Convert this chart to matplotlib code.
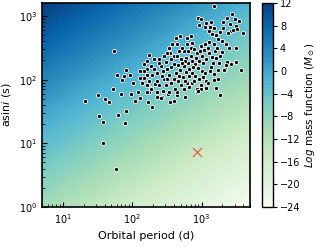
import numpy as np
import matplotlib
matplotlib.use("Agg")
import matplotlib.pyplot as plt

# orbital period (d) and projected semi-major axis asini (light-s)
period = [54, 61, 82, 72, 94, 77, 103, 52, 70, 32, 21, 41, 47, 97, 122, 110, 130, 169, 193, 175,
          228, 268, 228, 33, 38.5, 63, 82, 79, 38.5, 59,
          259, 327, 349, 398, 439, 572, 849, 1870,
          3160, 3730, 2350, 2280, 2200, 2130, 1810, 1750, 1535, 1390, 1180, 1260, 1750, 1535, 1180,
          968, 849, 968, 877, 2680, 1640,
          175, 164, 206, 243, 148, 130, 164, 187, 206, 259, 306, 349, 316, 398, 469, 553, 631, 696,
          501, 591, 631, 719, 553, 454, 398, 361, 316, 277, 228, 193, 164, 148, 130, 139, 164, 187,
          213, 228, 287, 338, 425, 485, 591, 652, 719, 398, 454, 361, 306, 277, 338, 439, 553, 610,
          719, 164, 187,
          1535, 877, 968, 906, 1180, 1390, 1345, 1535, 1300, 1435, 1640, 1870, 1750, 1535, 1300, 1140,
          968, 2060, 2350, 2770, 3060, 3490, 2600, 3160, 2680, 2430, 2870, 2000, 2280, 3980, 3160, 2510,
          1140, 2060, 3270, 425, 485, 373, 439, 610, 696, 610, 719, 518, 338,
          770, 849, 936, 1033, 821, 906, 1068, 1180, 1300, 1435, 1585, 1260, 1104, 794, 877, 1000,
          1140, 743, 652, 794, 906, 1345, 1485, 1640, 1870, 1693, 2000, 696, 572, 518, 770, 1068,
          535, 469, 572, 652, 501, 411, 243, 287, 361, 439, 268, 175, 243, 148, 316]
asini = [284, 120, 143, 100, 120, 115, 90, 70, 60, 58, 47, 49, 44, 60, 65, 47, 52, 44, 37, 65,
         63, 54, 54, 27, 22, 28, 32, 21, 10, 3.9,
         52, 60, 44, 47, 58, 54, 65, 58,
         191, 143, 191, 171, 149, 143, 184, 143, 124, 160, 96, 90, 104, 100, 75,
         81, 72, 70, 67, 178, 75,
         246, 198, 213, 213, 178, 138, 149, 165, 149, 165, 191, 264, 264, 237, 284, 284, 284, 316,
         213, 221, 184, 198, 165, 171, 178, 160, 149, 138, 129, 120, 120, 108, 108, 90, 81, 75,
         84, 96, 104, 120, 129, 143, 133, 149, 129, 104, 96, 87, 81, 67, 63, 63, 72, 87,
         90, 63, 72,
         1430, 930, 898, 723, 777, 806, 673, 649, 583, 523, 505, 562, 437, 365, 392, 365,
         340, 806, 930, 1075, 898, 835, 750, 698, 583, 542, 604, 407, 365, 542, 316, 316,
         673, 649, 626, 453, 487, 365, 365, 453, 487, 365, 378, 316, 316,
         305, 264, 284, 237, 221, 198, 184, 213, 264, 229, 284, 316, 294, 178, 154, 138,
         129, 160, 115, 115, 104, 138, 184, 221, 237, 316, 274, 237, 198, 184, 96, 111,
         111, 115, 96, 78, 81, 72, 184, 237, 213, 237, 115, 96, 81, 138, 104]

target_period = [850]
target_asini = [7.2]

# background: ln of mass function in solar masses
c = 2.998e8
gm_sun = 1.327e20
pp, aa = np.meshgrid(np.logspace(np.log10(5), np.log10(5000), 300),
                     np.logspace(0, np.log10(1600), 300))
mass_fn = 4 * np.pi**2 * (c * aa)**3 / (gm_sun * (86400 * pp)**2)
ln_f = np.clip(np.log(mass_fn), -24, 12)

fig = plt.figure(figsize=(3.16, 2.47), dpi=100)
ax = fig.add_axes([0.133, 0.162, 0.658, 0.826])
cax = fig.add_axes([0.829, 0.162, 0.035, 0.826])

cf = ax.contourf(pp, aa, ln_f, levels=np.arange(-24, 12.01, 0.5), cmap="GnBu",
                 vmin=-24, vmax=12)
ax.scatter(period, asini, s=9, c="black", edgecolors="white", linewidths=0.6, zorder=3)
ax.scatter(target_period, target_asini, s=40, marker="x", c="#f04a3a", linewidths=0.8, zorder=4)

ax.set_xscale("log")
ax.set_yscale("log")
ax.set_xlim(5, 5000)
ax.set_ylim(1, 1600)
ax.set_xlabel("Orbital period (d)", fontsize=8)
ax.set_ylabel(r"asin$i$ (s)", fontsize=8)
ax.tick_params(which="both", direction="in", labelsize=7)
ax.tick_params(which="major", length=3.5)
ax.tick_params(which="minor", length=2)
for sp in ax.spines.values():
    sp.set_linewidth(1.2)

cb = fig.colorbar(cf, cax=cax, ticks=np.arange(-24, 13, 4))
cb.ax.tick_params(labelsize=7, length=3, pad=2)
cb.outline.set_linewidth(1.0)
cb.set_label(r"$Log$ mass function ($M_\odot$)", fontsize=7.5, labelpad=2)

fig.savefig("out.png", dpi=100)
